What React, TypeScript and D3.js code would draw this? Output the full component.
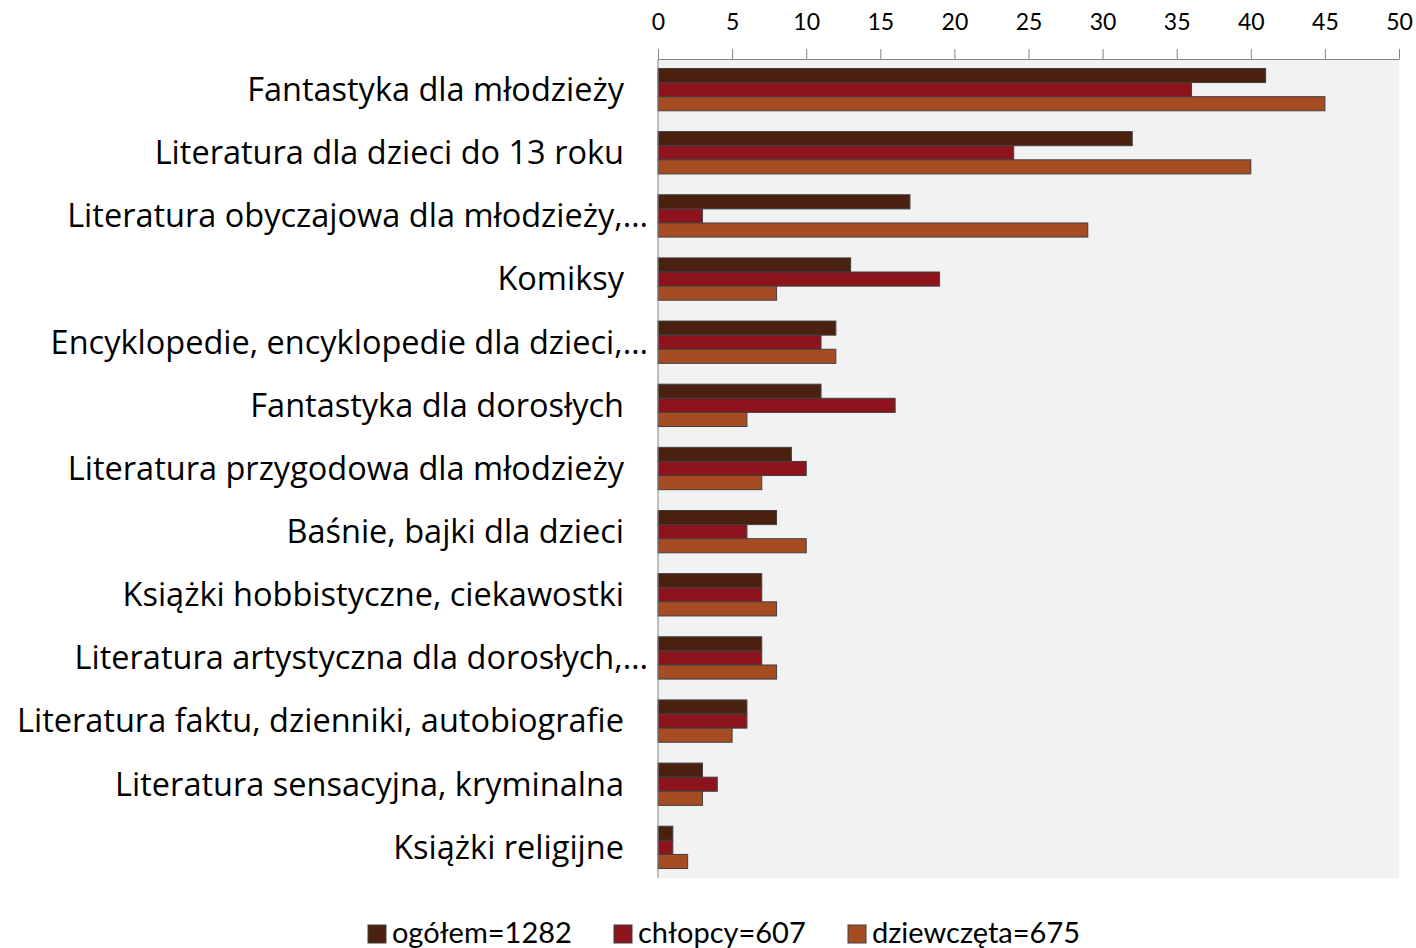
import React, { useEffect, useRef } from 'react';
import * as d3 from 'd3';

// categories, top to bottom
const categories = [
  'Fantastyka dla młodzieży',
  'Literatura dla dzieci do 13 roku',
  'Literatura obyczajowa dla młodzieży,…',
  'Komiksy',
  'Encyklopedie, encyklopedie dla dzieci,…',
  'Fantastyka dla dorosłych',
  'Literatura przygodowa dla młodzieży',
  'Baśnie, bajki dla dzieci',
  'Książki hobbistyczne, ciekawostki',
  'Literatura artystyczna dla dorosłych,…',
  'Literatura faktu, dzienniki, autobiografie',
  'Literatura sensacyjna, kryminalna',
  'Książki religijne',
];

const ogolem = [41, 32, 17, 13, 12, 11, 9, 8, 7, 7, 6, 3, 1];
const chlopcy = [36, 24, 3, 19, 11, 16, 10, 6, 7, 7, 6, 4, 1];
const dziewczeta = [45, 40, 29, 8, 12, 6, 7, 10, 8, 8, 5, 3, 2];

const seriesNames = ['ogółem=1282', 'chłopcy=607', 'dziewczęta=675'];
const xTicks = [0, 5, 10, 15, 20, 25, 30, 35, 40, 45, 50];

const App = () => {
  const ref = useRef<SVGSVGElement>(null);

  useEffect(() => {
    const width = 1416;
    const height = 948;
    const margin = { top: 59, right: 17, bottom: 70, left: 658 };
    const font = 'Lato, "Open Sans", sans-serif';
    const labelFont = '"Open Sans", sans-serif';
    const colors = ['#4a2110', '#8d141c', '#a64c22'];
    const series = [ogolem, chlopcy, dziewczeta];

    const svg = d3.select(ref.current);
    svg.selectAll('*').remove();

    const innerW = width - margin.left - margin.right;
    const innerH = height - margin.top - margin.bottom;

    const x = d3.scaleLinear().domain([0, 50]).range([0, innerW]);
    const y = d3.scaleBand().domain(categories).range([0, innerH]).paddingInner(0.33).paddingOuter(0.15);
    const y1 = d3.scaleBand().domain(['0', '1', '2']).range([0, y.bandwidth()]);

    const g = svg.append('g').attr('transform', `translate(${margin.left},${margin.top})`);

    // plot background
    g.append('rect')
      .attr('width', innerW)
      .attr('height', innerH)
      .attr('fill', '#f2f2f2');

    // bars
    categories.forEach((cat, i) => {
      series.forEach((s, k) => {
        g.append('rect')
          .attr('x', x(0))
          .attr('y', (y(cat) as number) + (y1(String(k)) as number))
          .attr('width', x(s[i]) - x(0))
          .attr('height', y1.bandwidth())
          .attr('fill', colors[k])
          .attr('stroke', '#404040')
          .attr('stroke-width', 1);
      });
    });

    // top axis
    const axis = g.append('g')
      .call(d3.axisTop(x).tickValues(xTicks).tickSize(10).tickPadding(19).tickSizeOuter(0));
    axis.select('.domain').attr('stroke', '#868686');
    axis.selectAll('.tick line').attr('stroke', '#868686');
    axis.selectAll('.tick text')
      .attr('font-family', font)
      .attr('font-size', 23)
      .attr('fill', '#000');

    // left axis line
    g.append('line')
      .attr('x1', 0).attr('x2', 0)
      .attr('y1', 0).attr('y2', innerH)
      .attr('stroke', '#868686');

    // category labels
    g.selectAll('.cat')
      .data(categories)
      .enter()
      .append('text')
      .attr('class', 'cat')
      .attr('x', d => (d.endsWith('…') ? -10 : -34))
      .attr('y', d => (y(d) as number) + y.bandwidth() / 2)
      .attr('dy', '0.35em')
      .attr('text-anchor', 'end')
      .attr('font-family', labelFont)
      .attr('font-size', 32.5)
      .attr('fill', '#000')
      .text(d => d);

    // legend
    const legendX = [368, 614, 848];
    const legend = svg.append('g').attr('transform', `translate(0, ${height - 5})`);
    seriesNames.forEach((name, k) => {
      legend.append('rect')
        .attr('x', legendX[k])
        .attr('y', -18)
        .attr('width', 18)
        .attr('height', 18)
        .attr('fill', colors[k])
        .attr('stroke', '#404040');
      legend.append('text')
        .attr('x', legendX[k] + 24)
        .attr('y', 0)
        .attr('font-family', font)
        .attr('font-size', 29)
        .attr('fill', '#000')
        .text(name);
    });
  }, []);

  return <svg ref={ref} width={1416} height={948} style={{ display: 'block', position: 'absolute', left: 0, top: 0 }} />;
};

export default App;
